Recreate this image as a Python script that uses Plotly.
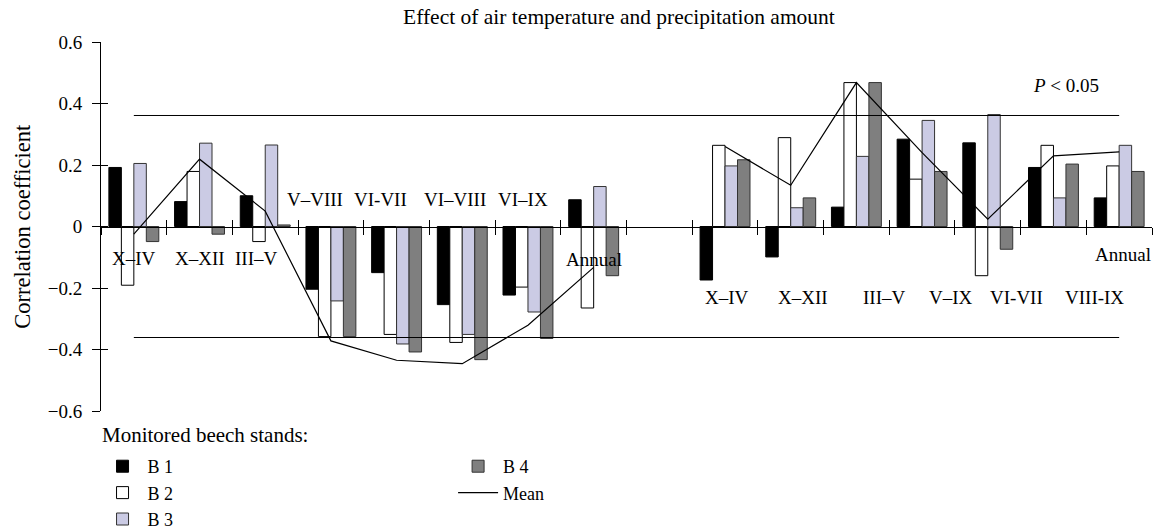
import plotly.graph_objects as go

# ---------------- data ----------------
temp_periods = ["X–IV", "X–XII", "III–V", "V–VIII", "VI-VII", "VI–VIII", "VI–IX", "Annual"]
prec_periods = ["X–IV", "X–XII", "III–V", "V–IX", "VI-VII", "VIII-IX", "Annual"]

b1_temp = [0.192, 0.081, 0.100, -0.204, -0.150, -0.254, -0.223, 0.087]
b2_temp = [-0.191, 0.179, -0.049, -0.358, -0.351, -0.377, -0.197, -0.265]
b3_temp = [0.205, 0.271, 0.265, -0.242, -0.382, -0.351, -0.278, 0.130]
b4_temp = [-0.049, -0.025, 0.005, -0.358, -0.408, -0.433, -0.364, -0.160]
mean_temp = [-0.025, 0.219, 0.050, -0.372, -0.435, -0.446, -0.321, -0.133]

b1_prec = [-0.174, -0.099, 0.063, 0.284, 0.272, 0.192, 0.093]
b2_prec = [0.264, 0.289, 0.468, 0.154, -0.160, 0.264, 0.197]
b3_prec = [0.197, 0.061, 0.228, 0.345, 0.364, 0.093, 0.264]
b4_prec = [0.217, 0.093, 0.468, 0.179, -0.074, 0.203, 0.179]
mean_prec = [0.260, 0.134, 0.468, 0.240, 0.024, 0.230, 0.243]

p05_level = 0.361
y_tick_vals = [-0.6, -0.4, -0.2, 0, 0.2, 0.4, 0.6]

# ---------------- layout helpers ----------------
x_temp = [i + 0.5 for i in range(len(temp_periods))]
gap_x = len(temp_periods) + 0.5
x_prec = [len(temp_periods) + 1.5 + i for i in range(len(prec_periods))]
n_slots = len(temp_periods) + 1 + len(prec_periods)

# label positions (data units)
temp_label_x = [0.5, 1.5, 2.36, 3.26, 4.26, 5.39, 6.42, 7.5]
temp_label_y = [-0.103, -0.103, -0.103, 0.089, 0.089, 0.089, 0.089, -0.107]
prec_label_x = [9.53, 10.68, 11.92, 12.94, 13.94, 15.13, 15.56]
prec_label_y = [-0.23, -0.23, -0.23, -0.23, -0.23, -0.23, -0.09]

FONT = "Liberation Serif, Times New Roman, serif"
TXT = 19


def f(size=TXT):
    return dict(family=FONT, size=size, color="black")


x_all = x_temp + x_prec
series = [
    ("B 1", b1_temp + b1_prec, "#000000", "#000000", 1),
    ("B 2", b2_temp + b2_prec, "#ffffff", "#000000", 3),
    ("B 3", b3_temp + b3_prec, "#cbcbe4", "#333333", 5),
    ("B 4", b4_temp + b4_prec, "#7f7f7f", "#333333", 2),
]

fig = go.Figure()
for name, vals, fill, edge, rank in series:
    fig.add_trace(go.Bar(
        x=x_all, y=vals, name=name,
        marker=dict(color=fill, line=dict(color=edge, width=1)),
        legend="legend" if name != "B 4" else "legend2",
        legendrank=rank,
    ))

# significance lines
for lvl in (p05_level, -p05_level):
    fig.add_trace(go.Scatter(
        x=[x_temp[0], x_prec[-1]], y=[lvl, lvl], mode="lines",
        line=dict(color="black", width=1), showlegend=False, hoverinfo="skip",
    ))

# mean line
fig.add_trace(go.Scatter(
    x=x_temp + [gap_x] + x_prec, y=mean_temp + [None] + mean_prec,
    mode="lines", line=dict(color="black", width=1.2), name="Mean",
    connectgaps=False, legend="legend2", legendrank=4,
))

# invisible trace for the crossing-tick overlay axes
fig.add_trace(go.Scatter(x=[0], y=[0], xaxis="x2", yaxis="y2", mode="markers",
                         marker=dict(opacity=0), showlegend=False, hoverinfo="skip"))

annotations = []
for lab, lx, ly in zip(temp_periods, temp_label_x, temp_label_y):
    annotations.append(dict(x=lx, y=ly, xref="x", yref="y", text=lab, showarrow=False, font=f()))
for lab, lx, ly in zip(prec_periods, prec_label_x, prec_label_y):
    annotations.append(dict(x=lx, y=ly, xref="x", yref="y", text=lab, showarrow=False, font=f()))
annotations.append(dict(x=14.69, y=0.46, xref="x", yref="y", text="<i>P</i> < 0.05",
                        showarrow=False, font=f()))
annotations.append(dict(x=-0.075, y=0.5, xref="paper", yref="paper", text="Correlation coefficient",
                        textangle=-90, showarrow=False, xanchor="center", yanchor="middle",
                        font=f(22.5)))
annotations.append(dict(x=-0.0014, y=-0.0650, xref="paper", yref="paper", text="Monitored beech stands:",
                        showarrow=False, xanchor="left", yanchor="middle", font=f(21)))

tick_common = dict(tickvals=list(range(n_slots + 1)), range=[0, n_slots], showgrid=False,
                   zeroline=False, showticklabels=False, ticklen=7, tickcolor="black", tickwidth=1)

fig.update_layout(
    width=1158, height=529,
    margin=dict(l=101, r=6, t=42, b=118, autoexpand=False),
    plot_bgcolor="white", paper_bgcolor="white",
    font=f(),
    title=dict(text="Effect of air temperature and precipitation amount",
               x=0.5345, xanchor="center", y=0.968, yanchor="middle", xref="container", yref="container",
               font=f(21.5)),
    barmode="group", bargap=0.24, bargroupgap=0,
    xaxis=dict(anchor="free", position=0.5, showline=True, linecolor="black", linewidth=1,
               ticks="outside", **tick_common),
    xaxis2=dict(anchor="free", position=0.5, overlaying="x", showline=False,
                ticks="inside", **tick_common),
    yaxis=dict(range=[-0.6, 0.6], tickvals=y_tick_vals, showline=True, linecolor="black",
               linewidth=1, ticks="outside", ticklen=8, tickcolor="black", showgrid=False,
               zeroline=False, tickfont=f(19), ticklabelstandoff=6),
    yaxis2=dict(range=[-0.6, 0.6], tickvals=y_tick_vals, overlaying="y", side="left",
                anchor="x", ticks="inside", ticklen=7, tickcolor="black", showgrid=False,
                zeroline=False, showticklabels=False, showline=False),
    legend=dict(x=-0.0033, xanchor="left", y=-0.1003, yanchor="top", itemwidth=40,
                bgcolor="rgba(0,0,0,0)", font=f(18), tracegroupgap=0),
    legend2=dict(x=0.335, xanchor="left", y=-0.1003, yanchor="top", itemwidth=40,
                 bgcolor="rgba(0,0,0,0)", font=f(18), tracegroupgap=0),
    annotations=annotations,
    showlegend=True,
)

fig.write_html("out.html", config={"displayModeBar": False},
               post_script="document.body.style.margin='0';")
